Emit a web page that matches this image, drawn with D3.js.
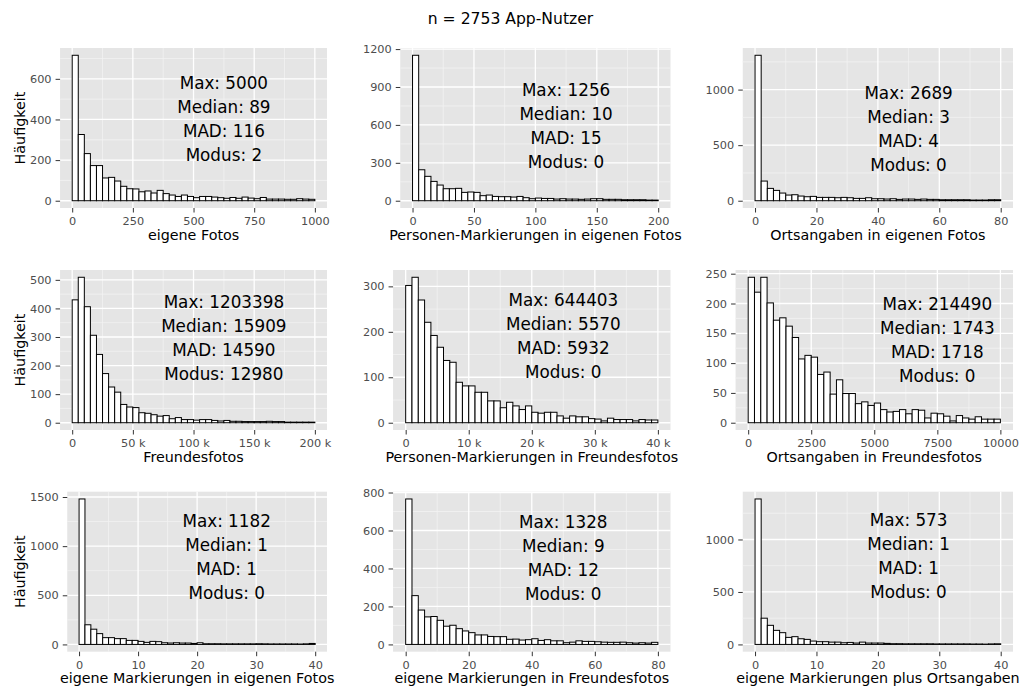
<!DOCTYPE html>
<html>
<head>
<meta charset="utf-8">
<script src="https://cdn.jsdelivr.net/npm/d3@7"></script>
<style>
body { margin: 0; background: #fff; }
text { font-family: "DejaVu Sans", sans-serif; }
</style>
</head>
<body>
<div id="chart"></div>
<script>
// Histogramme der App-Nutzer (9 Merkmale, je 40 Klassen)
var chartTitle = "n = 2753 App-Nutzer";

var xTitles = [
    "eigene Fotos",
    "Personen-Markierungen in eigenen Fotos",
    "Ortsangaben in eigenen Fotos",
    "Freundesfotos",
    "Personen-Markierungen in Freundesfotos",
    "Ortsangaben in Freundesfotos",
    "eigene Markierungen in eigenen Fotos",
    "eigene Markierungen in Freundesfotos",
    "eigene Markierungen plus Ortsangaben"
];

// upper end of the binned range (40 bins from 0)
var binMax = [1000, 200, 80, 200000, 40000, 10000, 40, 80, 40];

var countsEigeneFotos = [716,326,232,173,173,112,115,97,71,59,58,44,48,38,51,35,28,21,28,21,15,21,21,18,15,12,16,12,18,13,10,16,8,8,8,7,7,10,8,7];
var countsPersonenEigen = [1151,245,193,153,124,95,95,98,66,69,66,40,45,34,32,32,29,34,24,16,21,18,18,13,16,13,13,11,13,16,16,11,11,11,8,8,8,8,5,5];
var countsOrteEigen = [1309,177,111,93,69,51,54,42,36,39,30,30,30,27,30,27,21,21,27,18,18,15,18,12,15,15,12,15,12,12,9,9,9,9,9,6,6,6,9,9];
var countsFreundesfotos = [430,509,406,306,239,172,125,107,64,55,53,35,33,28,23,25,14,18,11,11,9,11,11,8,6,8,5,5,4,4,4,4,5,4,4,2,2,2,2,2];
var countsPersonenFreunde = [302,320,270,221,192,166,137,133,89,81,81,67,67,48,48,33,45,37,29,37,23,21,23,23,15,10,15,13,13,9,8,4,10,7,7,7,4,7,6,6];
var countsOrteFreunde = [244,219,244,201,172,176,162,143,107,113,110,81,85,48,72,49,49,32,35,29,33,22,18,19,22,15,22,21,8,16,15,11,3,12,8,6,10,6,6,6];
var countsEigeneMarkEigen = [1480,200,155,110,69,69,59,59,41,41,31,21,31,28,17,14,17,14,14,10,17,7,7,7,6,6,6,6,6,6,7,6,5,5,5,5,5,4,6,10];
var countsEigeneMarkFreunde = [766,257,181,145,147,127,96,101,83,71,62,50,50,42,41,41,27,28,23,25,30,21,25,19,19,9,12,19,16,16,14,12,11,11,12,9,7,9,7,11];
var countsMarkPlusOrte = [1386,250,182,134,112,67,74,54,48,32,26,26,22,22,16,19,13,22,13,13,13,10,7,7,6,6,6,6,6,5,5,5,5,5,5,4,4,3,5,6];

var allCounts = [countsEigeneFotos, countsPersonenEigen, countsOrteEigen,
    countsFreundesfotos, countsPersonenFreunde, countsOrteFreunde,
    countsEigeneMarkEigen, countsEigeneMarkFreunde, countsMarkPlusOrte];

// Kennzahlen
var statMax = [5000, 1256, 2689, 1203398, 644403, 214490, 1182, 1328, 573];
var statMedian = [89, 10, 3, 15909, 5570, 1743, 1, 9, 1];
var statMAD = [116, 15, 4, 14590, 5932, 1718, 1, 12, 1];
var statModus = [2, 0, 0, 12980, 0, 0, 0, 0, 0];

// where the text block sits, in data units
var labelX = [625, 125, 50, 125000, 25000, 7500, 25, 50, 25];
var labelY = [400, 590, 645, 297, 190, 139, 890, 455, 839];

var yTickValues = [
    [0, 200, 400, 600],
    [0, 300, 600, 900, 1200],
    [0, 500, 1000],
    [0, 100, 200, 300, 400, 500],
    [0, 100, 200, 300],
    [0, 50, 100, 150, 200, 250],
    [0, 500, 1000, 1500],
    [0, 200, 400, 600, 800],
    [0, 500, 1000]
];
var xTickValues = [
    [0, 250, 500, 750, 1000],
    [0, 50, 100, 150, 200],
    [0, 20, 40, 60, 80],
    [0, 50000, 100000, 150000, 200000],
    [0, 10000, 20000, 30000, 40000],
    [0, 2500, 5000, 7500, 10000],
    [0, 10, 20, 30, 40],
    [0, 20, 40, 60, 80],
    [0, 10, 20, 30, 40]
];
var kiloAxis = [false, false, false, true, true, false, false, false, false];

// Layout
var svgWidth = 1021;
var svgHeight = 686;
var colRight = [327, 670.5, 1013];
var colBase = [38.5, 371.5, 714];
var rowTop = [48, 270, 491.7];
var panelHeight = 160;
var tickFont = 11.3;
var titleFont = 14.3;
var mainFont = 15.6;
var labelFont = 16.8;

var svg = d3.select("#chart")
    .append("svg")
    .attr("width", svgWidth)
    .attr("height", svgHeight);

svg.append("text")
    .attr("x", svgWidth / 2)
    .attr("y", 23.5)
    .attr("text-anchor", "middle")
    .attr("font-size", mainFont + "px")
    .attr("fill", "#000")
    .text(chartTitle);

function textWidth(str, size) {
    var t = svg.append("text").attr("font-size", size + "px").text(str);
    var w = t.node().getComputedTextLength();
    t.remove();
    return w;
}

function minorBreaks(ticks, domain) {
    var step = ticks[1] - ticks[0];
    var out = [];
    for (var t = ticks[0] - step; t <= ticks[ticks.length - 1]; t += step) {
        var m = t + step / 2;
        if (m > domain[0] && m < domain[1]) out.push(m);
    }
    return out;
}

function kFormat(d) {
    return d === 0 ? "0" : (d / 1000) + " k";
}

allCounts.forEach(function(counts, i) {
    var col = i % 3;
    var row = Math.floor(i / 3);

    var labelW = d3.max(yTickValues[i], function(v) { return textWidth(String(v), tickFont); });
    var left = colBase[col] + labelW;
    var right = colRight[col];
    var top = rowTop[row];
    var width = right - left;
    var height = panelHeight;

    var xmax = binMax[i];
    var binWidth = xmax / counts.length;
    var ymax = d3.max(counts);

    var xDomain = [-0.05 * xmax, 1.05 * xmax];
    var yDomain = [-0.05 * ymax, 1.05 * ymax];

    var x = d3.scaleLinear().domain(xDomain).range([0, width]);
    var y = d3.scaleLinear().domain(yDomain).range([height, 0]);

    var g = svg.append("g")
        .attr("transform", `translate(${left}, ${top})`);

    // panel background
    g.append("rect")
        .attr("width", width)
        .attr("height", height)
        .attr("fill", "#E5E5E5");

    // minor grid
    g.selectAll(".minor-x")
        .data(minorBreaks(xTickValues[i], xDomain))
        .enter().append("line")
        .attr("x1", d => x(d)).attr("x2", d => x(d))
        .attr("y1", 0).attr("y2", height)
        .attr("stroke", "#F2F2F2").attr("stroke-width", 0.8);
    g.selectAll(".minor-y")
        .data(minorBreaks(yTickValues[i], yDomain))
        .enter().append("line")
        .attr("y1", d => y(d)).attr("y2", d => y(d))
        .attr("x1", 0).attr("x2", width)
        .attr("stroke", "#F2F2F2").attr("stroke-width", 0.8);

    // major grid
    g.selectAll(".major-x")
        .data(xTickValues[i])
        .enter().append("line")
        .attr("x1", d => x(d)).attr("x2", d => x(d))
        .attr("y1", 0).attr("y2", height)
        .attr("stroke", "#fff").attr("stroke-width", 1.3);
    g.selectAll(".major-y")
        .data(yTickValues[i])
        .enter().append("line")
        .attr("y1", d => y(d)).attr("y2", d => y(d))
        .attr("x1", 0).attr("x2", width)
        .attr("stroke", "#fff").attr("stroke-width", 1.3);

    // bars
    g.selectAll(".bar")
        .data(counts)
        .enter().append("rect")
        .attr("x", (d, j) => x(j * binWidth))
        .attr("y", d => y(d))
        .attr("width", (d, j) => x((j + 1) * binWidth) - x(j * binWidth))
        .attr("height", d => y(0) - y(d))
        .attr("fill", "#fff")
        .attr("stroke", "#000")
        .attr("stroke-width", 1);

    // axes
    var xAxis = d3.axisBottom(x)
        .tickValues(xTickValues[i])
        .tickSize(4.5)
        .tickSizeOuter(0)
        .tickPadding(4.5)
        .tickFormat(kiloAxis[i] ? kFormat : d3.format("d"));
    var yAxis = d3.axisLeft(y)
        .tickValues(yTickValues[i])
        .tickSize(4.5)
        .tickSizeOuter(0)
        .tickPadding(4)
        .tickFormat(d3.format("d"));

    var gx = g.append("g")
        .attr("transform", `translate(0, ${height})`)
        .call(xAxis);
    var gy = g.append("g").call(yAxis);

    [gx, gy].forEach(function(ax) {
        ax.select(".domain").remove();
        ax.selectAll(".tick line").attr("stroke", "#333").attr("stroke-width", 1);
        ax.selectAll(".tick text")
            .attr("fill", "#4D4D4D")
            .attr("font-size", tickFont + "px")
            .attr("font-family", "DejaVu Sans, sans-serif");
    });

    // axis titles
    g.append("text")
        .attr("x", width / 2)
        .attr("y", height + 31.5)
        .attr("text-anchor", "middle")
        .attr("font-size", titleFont + "px")
        .attr("fill", "#000")
        .text(xTitles[i]);

    if (col === 0) {
        svg.append("text")
            .attr("transform", `translate(25, ${top + height / 2}) rotate(-90)`)
            .attr("text-anchor", "middle")
            .attr("font-size", titleFont + "px")
            .attr("fill", "#000")
            .text("Häufigkeit");
    }

    // Kennzahlen block
    var lines = [
        "Max: " + statMax[i],
        "Median: " + statMedian[i],
        "MAD: " + statMAD[i],
        "Modus: " + statModus[i]
    ];
    var cx = x(labelX[i]);
    var cy = y(labelY[i]);
    g.selectAll(".stat")
        .data(lines)
        .enter().append("text")
        .attr("x", cx)
        .attr("y", (d, k) => cy + (k - 1.5) * 24 + 6)
        .attr("text-anchor", "middle")
        .attr("font-size", labelFont + "px")
        .attr("fill", "#000")
        .text(d => d);
});
</script>
</body>
</html>
